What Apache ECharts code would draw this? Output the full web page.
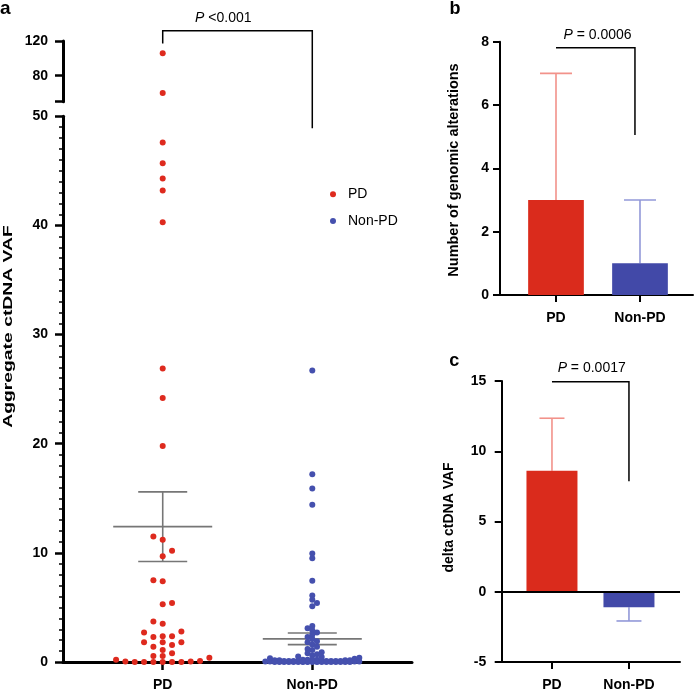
<!DOCTYPE html>
<html><head><meta charset="utf-8">
<script src="https://cdn.jsdelivr.net/npm/echarts@6/dist/echarts.min.js"></script>
<style>html,body{margin:0;padding:0;background:#fff}#c{width:697px;height:692px}</style>
</head><body><div id="c"></div>
<script>
// ---------------- data ----------------
const groups = ['PD', 'Non-PD'];
// panel a: aggregate ctDNA VAF per patient
const pdVaf = [106, 60, 47.6, 45.7, 44.3, 43.2, 40.3, 26.9, 24.2, 19.8,
  11.5, 11.2, 10.2, 9.7, 7.5, 7.4, 5.4, 5.3, 3.7, 3.5, 2.8, 2.7, 2.3, 2.35, 2.35,
  1.8, 1.8, 1.8, 1.4, 1.55, 1.1, 0.55, 0.4, 0.55, 0.8,
  0, 0, 0.05, 0.2, 0.1, 0, 0, 0, 0, 0.05];
const nonPdVaf = [26.7, 17.2, 15.9, 14.4, 9.95, 9.5, 7.45, 6.1, 5.7, 5.4, 5.1,
  3.3, 3.1, 2.9, 2.7, 2.5, 2.3, 2.1, 1.9, 1.8, 1.6, 1.4, 1.2, 1.1, 0.9, 0.8, 0.7,
  0.6, 0.5, 0.45, 0.4, 0.35, 0.3,
  0.2, 0.15, 0.1, 0.05, 0, 0.2, 0.1, 0, 0.05, 0, 0.15, 0.1, 0, 0, 0.05, 0.1, 0,
  0.2, 0, 0.05, 0.1, 0, 0, 0.15, 0.05, 0, 0.1, 0, 0.05, 0, 0.2, 0.1, 0, 0.05,
  0, 0.1, 0, 0.15, 0, 0.05, 0, 0.1];
const aUpperTicks = [80, 120];
// panel b: number of genomic alterations (bar + SD)
const genomicValue = [3, 1];
const genomicErr = [4, 2];
// panel c: delta ctDNA VAF (bar + SD)
const deltaValue = [8.62, -1.1];
const deltaErr = [3.73, 0.98];
const pLabels = ['<0.001', '= 0.0006', '= 0.0017'];
const panelLetters = ['a', 'b', 'c'];
const yTitles = ['Aggregate ctDNA VAF', 'Number of genomic alterations', 'delta ctDNA VAF'];

// ---------------- style / layout ----------------
const FONT = "'Liberation Sans', Arial, Helvetica, sans-serif";
const RED = '#DE2A1E', BLUE = '#4550AE';
const BAR_RED = '#DA2B1C', BAR_BLUE = '#4249A8';
const ERR_RED = '#F2928A', ERR_BLUE = '#9298D8';
const GRAY = '#767676';
const W = 697, H = 692;

const gA = { left: 63, right: W - 412 };
const gAup = { top: 41, bottom: H - 101.7 };
const gAlow = { top: 116.3, bottom: H - 662.7 };
const xA = [1 / 3, 8 / 3];
const xB = [1 / 3, 2.631];
const xC = [0.347, 2.663];

const pxX = (W - gA.left - gA.right) / (xA[1] - xA[0]);
const pxY = (H - gAlow.top - gAlow.bottom) / 50;

function swarm(values, stepPx, maxK, minDist) {
  const order = values.map((v, i) => i).sort((a, b) => values[a] - values[b]);
  const placed = [];
  const ks = new Array(values.length);
  let flip = 1;
  order.forEach(i => {
    const y = values[i] * pxY;
    const cands = [0];
    for (let a = 1; a <= maxK; a++) cands.push(-a * flip, a * flip);
    let chosen = null, bestScore = -1, bestK = 0;
    for (const k of cands) {
      const x = k * stepPx;
      let m = Infinity;
      for (const q of placed) { const d = Math.hypot(q.x - x, q.y - y); if (d < m) m = d; }
      if (m >= minDist) { chosen = k; break; }
      if (m > bestScore) { bestScore = m; bestK = k; }
    }
    if (chosen === null) chosen = bestK;
    if (chosen !== 0) flip = Math.sign(chosen);
    placed.push({ x: chosen * stepPx, y });
    ks[i] = chosen * stepPx / pxX;
  });
  return ks;
}

const pdLow = pdVaf.filter(v => v <= 50);
const pdHigh = pdVaf.filter(v => v > 50);
const pdOff = swarm(pdLow, 9.33, 5, 5.6);
const npOff = swarm(nonPdVaf, 4.7, 10, 3.6);

function meanSem(arr) {
  const n = arr.length;
  const m = arr.reduce((s, v) => s + v, 0) / n;
  const sd = Math.sqrt(arr.reduce((s, v) => s + (v - m) * (v - m), 0) / (n - 1));
  const se = sd / Math.sqrt(n);
  return [m, m + se, m - se];
}
const statsPD = meanSem(pdVaf), statsNP = meanSem(nonPdVaf);

const tickLabel = { color: '#000', fontFamily: FONT, fontWeight: 'bold', fontSize: 14 };
const blackLine = w => ({ lineStyle: { color: '#000', width: w } });

function meanRender(params, api) {
  const c = api.coord([api.value(0), api.value(1)]);
  const hi = api.coord([api.value(0), api.value(2)]);
  const lo = api.coord([api.value(0), api.value(3)]);
  const st = { stroke: GRAY, lineWidth: 1.6 };
  return { type: 'group', children: [
    { type: 'line', shape: { x1: c[0] - 49.5, y1: c[1], x2: c[0] + 49.5, y2: c[1] }, style: st },
    { type: 'line', shape: { x1: hi[0] - 24.5, y1: hi[1], x2: hi[0] + 24.5, y2: hi[1] }, style: st },
    { type: 'line', shape: { x1: lo[0] - 24.5, y1: lo[1], x2: lo[0] + 24.5, y2: lo[1] }, style: st },
    { type: 'line', shape: { x1: hi[0], y1: hi[1], x2: lo[0], y2: lo[1] }, style: st }
  ] };
}
function bracketRender(params, api) {
  const x1 = api.value(0), x2 = api.value(1), top = api.value(2), e1 = api.value(3), e2 = api.value(4);
  const p = [api.coord([x1, e1]), api.coord([x1, top]), api.coord([x2, top]), api.coord([x2, e2])];
  return { type: 'polyline', shape: { points: p }, style: { stroke: '#000', lineWidth: 1.5, fill: null } };
}
function errRender(capHalf) {
  return function (params, api) {
    const a = api.coord([api.value(0), api.value(1)]);
    const b = api.coord([api.value(0), api.value(2)]);
    const col = params.dataIndex === 0 ? ERR_RED : ERR_BLUE;
    const st = { stroke: col, lineWidth: 1.6 };
    return { type: 'group', children: [
      { type: 'line', shape: { x1: a[0], y1: a[1], x2: b[0], y2: b[1] }, style: st },
      { type: 'line', shape: { x1: b[0] - capHalf, y1: b[1], x2: b[0] + capHalf, y2: b[1] }, style: st }
    ] };
  };
}
const catFmt = v => groups[Math.round(v) - 1];

const option = {
  animation: false,
  backgroundColor: '#fff',
  textStyle: { fontFamily: FONT },
  legend: {
    data: groups, orient: 'vertical', left: 325, top: 182.3, itemGap: 12.7,
    icon: 'circle', itemWidth: 20, itemHeight: 6, selectedMode: false,
    textStyle: { fontFamily: FONT, fontSize: 14, color: '#000' }
  },
  grid: [
    { left: gA.left, right: gA.right, top: gAup.top, bottom: gAup.bottom },
    { left: gA.left, right: gA.right, top: gAlow.top, bottom: gAlow.bottom },
    { left: 500, right: 4, top: 41.7, bottom: 397 },
    { left: 501.7, right: 17, top: 381, bottom: 28.7 }
  ],
  xAxis: [
    { type: 'value', gridIndex: 0, min: xA[0], max: xA[1], show: false },
    { type: 'value', gridIndex: 1, min: xA[0], max: xA[1], splitLine: { show: false },
      axisLine: { onZero: false, ...blackLine(3) },
      axisTick: { customValues: [1, 2], length: 8, ...blackLine(2.5) },
      axisLabel: { customValues: [1, 2], formatter: catFmt, margin: 16, ...tickLabel } },
    { type: 'value', gridIndex: 2, min: xB[0], max: xB[1], splitLine: { show: false },
      axisLine: { onZero: false, ...blackLine(2) },
      axisTick: { customValues: [1, 2], length: 7, ...blackLine(2) },
      axisLabel: { customValues: [1, 2], formatter: catFmt, margin: 16, ...tickLabel } },
    { type: 'value', gridIndex: 3, min: xC[0], max: xC[1], splitLine: { show: false },
      axisLine: { onZero: false, ...blackLine(2) },
      axisTick: { customValues: [1, 2], length: 7, ...blackLine(2) },
      axisLabel: { customValues: [1, 2], formatter: catFmt, margin: 16, ...tickLabel } }
  ],
  yAxis: [
    { type: 'value', gridIndex: 0, min: 50, max: 120, splitLine: { show: false },
      axisLine: { show: true, ...blackLine(3) },
      axisTick: { show: true, customValues: [50].concat(aUpperTicks), length: 8, ...blackLine(2.5) },
      axisLabel: { customValues: aUpperTicks, margin: 15, ...tickLabel } },
    { type: 'value', gridIndex: 1, min: 0, max: 50, interval: 10, splitLine: { show: false },
      axisLine: { show: true, ...blackLine(3) },
      axisTick: { show: true, length: 8, ...blackLine(2.5) },
      minorTick: { show: true, splitNumber: 10, length: 4, ...blackLine(1.5) },
      axisLabel: { margin: 15, ...tickLabel } },
    { type: 'value', gridIndex: 2, min: 0, max: 8, interval: 2, splitLine: { show: false },
      axisLine: { show: true, ...blackLine(2) },
      axisTick: { show: true, length: 7, ...blackLine(2) },
      axisLabel: { margin: 11, ...tickLabel } },
    { type: 'value', gridIndex: 3, min: -5, max: 15, interval: 5, splitLine: { show: false },
      axisLine: { show: true, ...blackLine(2) },
      axisTick: { show: true, length: 7, ...blackLine(2) },
      axisLabel: { margin: 15.5, ...tickLabel } }
  ],
  series: [
    { type: 'custom', xAxisIndex: 1, yAxisIndex: 1, z: 2, clip: false, silent: true,
      renderItem: meanRender, data: [[1].concat(statsPD), [2].concat(statsNP)] },
    { name: 'PD', type: 'scatter', xAxisIndex: 0, yAxisIndex: 0, symbolSize: 6, z: 3,
      itemStyle: { color: RED, opacity: 1 }, data: pdHigh.map(v => [1, v]) },
    { name: 'PD', type: 'scatter', xAxisIndex: 1, yAxisIndex: 1, symbolSize: 6, z: 3, clip: false,
      itemStyle: { color: RED, opacity: 1 }, data: pdLow.map((v, i) => [1 + pdOff[i], v]) },
    { name: 'Non-PD', type: 'scatter', xAxisIndex: 1, yAxisIndex: 1, symbolSize: 6, z: 3, clip: false,
      itemStyle: { color: BLUE, opacity: 1 }, data: nonPdVaf.map((v, i) => [2 + npOff[i], v]) },
    { type: 'custom', xAxisIndex: 1, yAxisIndex: 1, clip: false, silent: true, z: 4,
      renderItem: bracketRender, data: [[1, 2, 57.83, 56.68, 48.9]] },
    { type: 'bar', xAxisIndex: 2, yAxisIndex: 2, barWidth: 55.7, z: 2,
      itemStyle: { color: p => p.dataIndex === 0 ? BAR_RED : BAR_BLUE },
      data: genomicValue.map((v, i) => [i + 1, v]) },
    { type: 'custom', xAxisIndex: 2, yAxisIndex: 2, clip: false, silent: true, z: 1,
      renderItem: errRender(16), data: genomicValue.map((v, i) => [i + 1, v, v + Math.sign(v) * genomicErr[i]]) },
    { type: 'custom', xAxisIndex: 2, yAxisIndex: 2, clip: false, silent: true, z: 4,
      renderItem: bracketRender, data: [[1, 1.94, 7.81, 7.81, 5.05]] },
    { type: 'bar', xAxisIndex: 3, yAxisIndex: 3, barWidth: 51, z: 2,
      itemStyle: { color: p => p.dataIndex === 0 ? BAR_RED : BAR_BLUE },
      data: deltaValue.map((v, i) => [i + 1, v]),
      markLine: { silent: true, symbol: 'none', label: { show: false },
        lineStyle: { color: '#000', width: 2, type: 'solid' }, data: [{ yAxis: 0 }] } },
    { type: 'custom', xAxisIndex: 3, yAxisIndex: 3, clip: false, silent: true, z: 1,
      renderItem: errRender(12.5), data: deltaValue.map((v, i) => [i + 1, v, v + Math.sign(v) * deltaErr[i]]) },
    { type: 'custom', xAxisIndex: 3, yAxisIndex: 3, clip: false, silent: true, z: 4,
      renderItem: bracketRender, data: [[1, 2, 14.94, 14.94, 7.86]] }
  ],
  graphic: [
    { type: 'text', x: 0, y: 8.6, style: { text: panelLetters[0], font: 'bold 19px ' + FONT, fill: '#000', textVerticalAlign: 'middle' } },
    { type: 'text', x: 455, y: 8.8, style: { text: panelLetters[1], font: 'bold 18px ' + FONT, fill: '#000', textAlign: 'center', textVerticalAlign: 'middle' } },
    { type: 'text', x: 454.3, y: 361, style: { text: panelLetters[2], font: 'bold 18px ' + FONT, fill: '#000', textAlign: 'center', textVerticalAlign: 'middle' } },
    { type: 'text', x: 8, y: 326.5, rotation: Math.PI / 2, scaleX: 1.38, scaleY: 0.95, style: { text: yTitles[0], font: 'bold 14px ' + FONT, fill: '#000', textAlign: 'center', textVerticalAlign: 'middle' } },
    { type: 'text', x: 454.5, y: 170, rotation: Math.PI / 2, scaleX: 1.035, style: { text: yTitles[1], font: 'bold 14px ' + FONT, fill: '#000', textAlign: 'center', textVerticalAlign: 'middle' } },
    { type: 'text', x: 448.7, y: 517.5, rotation: Math.PI / 2, style: { text: yTitles[2], font: 'bold 14px ' + FONT, fill: '#000', textAlign: 'center', textVerticalAlign: 'middle' } },
    { type: 'text', x: 223.3, y: 17.8, style: { text: '{i|P} ' + pLabels[0], font: '14px ' + FONT, fill: '#000', textAlign: 'center', textVerticalAlign: 'middle', rich: { i: { fontStyle: 'italic', fontFamily: FONT, fontSize: 14 } } } },
    { type: 'text', x: 597.5, y: 35.2, style: { text: '{i|P} ' + pLabels[1], font: '14px ' + FONT, fill: '#000', textAlign: 'center', textVerticalAlign: 'middle', rich: { i: { fontStyle: 'italic', fontFamily: FONT, fontSize: 14 } } } },
    { type: 'text', x: 591.7, y: 367.8, style: { text: '{i|P} ' + pLabels[2], font: '14px ' + FONT, fill: '#000', textAlign: 'center', textVerticalAlign: 'middle', rich: { i: { fontStyle: 'italic', fontFamily: FONT, fontSize: 14 } } } }
  ]
};
const chart = echarts.init(document.getElementById('c'), null, { renderer: 'canvas' });
chart.setOption(option);
</script>
</body></html>
